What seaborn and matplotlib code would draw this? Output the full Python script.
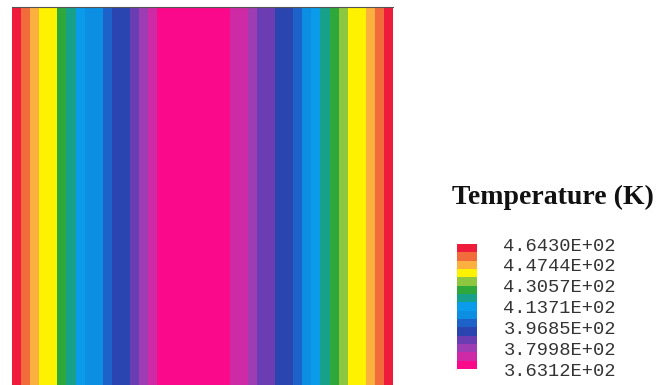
import numpy as np
import pandas as pd
import matplotlib.pyplot as plt
import seaborn as sns
from matplotlib.colors import ListedColormap

# temperature (K) read across the domain, left wall -> right wall
temperature = [461.0, 454.0, 446.0, 441.0, 439.0, 427.0, 421.0, 413.0, 407.0, 405.0,
               400.0, 393.0, 391.0, 387.0, 380.0, 372.0, 367.0, 365.0, 364.0, 363.5,
               363.2, 363.2, 363.5, 365.0, 372.0, 371.0, 380.0, 385.0, 388.0, 393.0,
               394.0, 400.0, 407.0, 413.0, 420.0, 427.0, 433.0, 441.0, 440.0, 447.0,
               454.0, 461.0]
t_min, t_max = 363.12, 464.30
tick_values = [464.30, 447.44, 430.57, 413.71, 396.85, 379.98, 363.12]
tick_labels = ["4.6430E+02", "4.4744E+02", "4.3057E+02", "4.1371E+02",
               "3.9685E+02", "3.7998E+02", "3.6312E+02"]

band_colors = ["#fa0a8a", "#cf2aa6", "#9e3cb4", "#6a3eb2", "#2b45b0",
               "#1d62c8", "#0c8ee2", "#0a9bea", "#17a08a", "#2ea83a",
               "#8dc63f", "#fff200", "#fbb040", "#f26b3a", "#ee1c3a"]

df = pd.DataFrame([temperature])

fig = plt.figure(figsize=(6.6, 3.85), dpi=100)
ax = fig.add_axes([12 / 660, 0, 381 / 660, 378 / 385])
cax = fig.add_axes([457 / 660, 1 - 369 / 385, 20 / 660, 125 / 385])

sns.heatmap(df, ax=ax, cbar_ax=cax, cmap=ListedColormap(band_colors),
            vmin=t_min, vmax=t_max, xticklabels=False, yticklabels=False,
            cbar_kws={"ticks": tick_values})

ax.spines["top"].set_visible(True)
ax.spines["top"].set_color("#555555")
ax.spines["top"].set_linewidth(0.8)

cb = ax.collections[0].colorbar
cb.outline.set_visible(False)
cb.ax.set_yticklabels(tick_labels, family="Liberation Mono", fontsize=13.5, color="#333333")
cb.ax.tick_params(length=0, pad=19)

fig.text(553 / 660, 1 - 197 / 385, "Temperature (K)", ha="center", va="center",
         family="Liberation Serif", fontweight="bold", fontsize=20, color="#111111")

fig.savefig("out.png", dpi=100)
